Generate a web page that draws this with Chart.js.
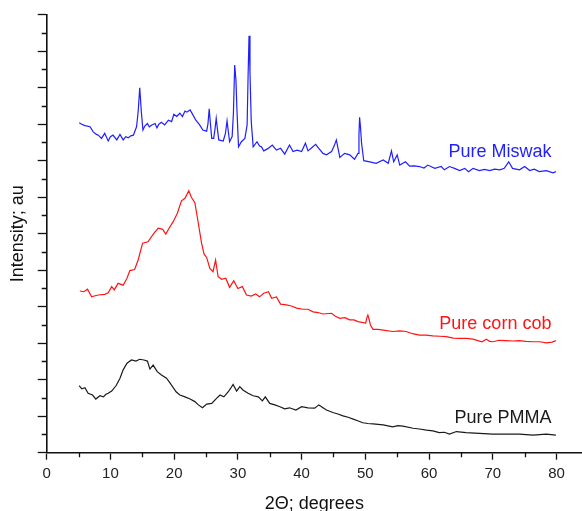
<!DOCTYPE html>
<html>
<head>
<meta charset="utf-8">
<script src="https://cdn.jsdelivr.net/npm/chart.js@4.4.1/dist/chart.umd.min.js"></script>
<style>
html,body{margin:0;padding:0;background:#fff;}
#wrap{width:582px;height:511px;}
</style>
</head>
<body>
<div id="wrap"><canvas id="xrd"></canvas></div>
<script>
// valores (2 theta en grados / intensidad en u.a.)
const miswakAngle=[5.1,5.5,6.0,6.8,7.3,7.8,8.1,8.6,9.1,9.65,10.0,10.4,11.0,11.5,12.0,12.4,12.8,13.2,13.6,14.1,14.35,14.6,14.85,15.1,15.4,15.8,16.1,16.5,17.0,17.3,17.6,18.0,18.5,19.1,19.6,19.95,20.4,20.9,21.3,21.7,22.0,22.5,22.9,23.4,24.0,24.5,25.1,25.3,25.5,25.7,25.9,26.2,26.4,26.6,26.8,27.0,27.7,28.05,28.3,28.5,28.7,29.1,29.3,29.5,29.7,29.85,30.1,30.55,31.1,31.45,31.6,31.75,31.9,32.1,32.4,33.0,33.4,33.7,34.05,34.7,35.4,36.05,36.7,37.35,38.1,38.65,39.3,40.0,40.6,41.0,41.5,42.2,42.7,43.35,43.9,44.7,45.1,45.45,45.7,46.0,46.75,47.55,48.3,48.85,49.0,49.1,49.25,49.4,49.75,50.7,51.7,52.8,53.6,54.1,54.45,55.0,55.4,56.3,56.95,57.7,58.5,59.2,59.8,60.9,61.9,62.4,63.2,64.0,64.8,65.6,66.2,66.9,67.9,68.7,69.5,70.3,71.1,71.8,72.5,73.1,74.2,75.0,75.8,76.5,77.3,78.4,79.45,79.9];
const miswakIntensity=[9.04,9.00,8.96,8.93,8.79,8.72,8.70,8.61,8.75,8.54,8.66,8.70,8.57,8.72,8.57,8.66,8.63,8.68,8.70,8.93,9.34,10.0,9.34,8.84,8.95,9.02,8.93,8.98,9.02,8.90,9.00,9.05,8.98,9.11,9.07,9.27,9.21,9.30,9.21,9.36,9.33,9.39,9.27,9.11,8.98,8.84,8.81,9.0,9.42,9.0,8.61,8.61,8.85,9.16,8.85,8.57,8.54,8.75,9.09,8.80,8.52,8.66,9.3,10.62,10.2,9.4,8.38,8.52,8.61,8.98,10.3,11.42,10.4,9.07,8.38,8.52,8.40,8.38,8.27,8.33,8.43,8.29,8.34,8.18,8.43,8.25,8.29,8.25,8.48,8.27,8.34,8.45,8.34,8.20,8.16,8.25,8.40,8.57,8.35,8.09,8.20,8.16,8.04,8.20,8.7,9.19,8.9,8.5,8.0,7.97,7.93,8.02,7.93,8.27,7.97,8.16,7.88,7.97,7.85,7.86,7.84,7.80,7.88,7.79,7.84,7.75,7.84,7.79,7.73,7.79,7.70,7.79,7.73,7.76,7.73,7.77,7.75,7.79,7.97,7.79,7.75,7.84,7.73,7.77,7.70,7.73,7.67,7.70];

const cornAngle=[5.2,5.85,6.4,7.05,7.6,8.1,9.1,9.65,10.2,10.6,11.2,12.0,12.6,13.05,13.8,14.35,15.05,15.9,16.45,17.0,17.5,18.2,18.7,19.2,19.85,20.5,21.15,21.7,22.3,22.7,23.25,23.8,24.3,24.7,25.1,25.6,26.1,26.5,26.9,27.45,28.1,28.7,29.35,30.0,30.7,31.35,32.1,32.8,33.4,34.05,34.8,35.3,36.05,36.7,37.6,38.4,39.2,40.2,41.0,41.8,42.6,43.35,44.7,45.3,46.0,46.8,47.55,48.2,48.85,50.05,50.25,50.4,50.6,50.8,51.2,52.0,52.8,54.3,55.4,56.4,57.4,58.5,59.5,60.6,61.7,62.7,63.8,64.8,65.9,66.9,68.3,69.0,69.5,70.0,71.0,72.1,73.1,74.2,75.2,76.3,77.4,78.4,79.3,79.9];
const cornIntensity=[4.43,4.41,4.48,4.27,4.30,4.32,4.34,4.38,4.55,4.46,4.64,4.59,4.78,4.99,5.02,5.28,5.74,5.78,5.92,6.05,6.15,6.12,5.99,6.15,6.33,6.56,6.90,6.97,7.18,7.0,6.85,6.28,5.74,5.44,5.35,5.05,4.96,5.28,4.82,4.75,4.78,4.53,4.71,4.50,4.55,4.32,4.29,4.35,4.27,4.37,4.41,4.23,4.27,4.07,4.05,4.02,3.96,3.93,3.93,3.86,3.84,3.80,3.82,3.74,3.68,3.70,3.64,3.64,3.59,3.55,3.70,3.77,3.65,3.50,3.38,3.38,3.36,3.32,3.34,3.32,3.26,3.22,3.22,3.20,3.19,3.18,3.14,3.13,3.13,3.11,3.04,3.11,3.05,3.04,3.08,3.07,3.06,3.07,3.05,3.04,3.04,3.01,3.03,3.07];

const pmmaAngle=[5.1,5.5,6.0,6.5,7.2,7.7,8.35,8.9,9.3,9.65,10.2,10.9,11.5,12.0,12.6,13.3,14.0,14.6,15.25,15.8,16.2,16.7,17.35,18.0,18.8,19.4,20.3,20.9,21.7,22.5,23.25,23.8,24.45,25.1,25.9,26.65,27.2,27.8,28.5,28.85,29.25,29.8,30.3,30.8,31.6,32.4,33.2,33.85,34.3,35.0,35.8,36.6,37.35,38.1,39.1,40.0,41.0,42.05,42.7,43.9,44.9,45.7,46.5,47.3,48.1,48.9,49.6,50.4,51.2,52.8,54.3,55.1,55.9,57.5,58.5,59.6,60.6,61.6,62.4,63.2,64.3,65.8,67.9,70.0,72.1,74.2,76.3,78.4,79.9];
const pmmaIntensity=[1.84,1.75,1.78,1.63,1.58,1.47,1.56,1.53,1.60,1.63,1.69,1.84,2.04,2.27,2.45,2.54,2.51,2.56,2.54,2.51,2.29,2.40,2.22,2.13,2.04,1.90,1.67,1.58,1.53,1.47,1.40,1.31,1.23,1.33,1.35,1.49,1.58,1.53,1.67,1.76,1.87,1.69,1.81,1.72,1.63,1.56,1.53,1.42,1.53,1.35,1.31,1.26,1.20,1.23,1.17,1.26,1.23,1.22,1.31,1.17,1.10,1.06,1.01,0.97,0.92,0.87,0.82,0.80,0.79,0.76,0.71,0.74,0.73,0.67,0.65,0.62,0.60,0.55,0.56,0.51,0.58,0.55,0.53,0.51,0.51,0.51,0.48,0.51,0.48];

const seriesNames=['Pure Miswak','Pure corn cob','Pure PMMA'];
const seriesColors=['#1f1fff','#ff1414','#1a1a1a'];

const FONT='Arial, "Liberation Sans", sans-serif';

function pares(xs,ys){
    return xs.map((x,i)=>({x:x,y:ys[i]}));
}

// marcas menores de los ejes (mas cortas que las mayores)
const minorTicks={
    id:'minorTicks',
    afterDraw(chart){
        const ctx=chart.ctx;
        const sx=chart.scales.x, sy=chart.scales.y;
        ctx.save();
        ctx.strokeStyle='#111';
        ctx.lineWidth=1.3;
        ctx.beginPath();
        for(let v=5;v<=75;v+=10){
            const px=Math.round(sx.getPixelForValue(v))+0.5;
            ctx.moveTo(px,sy.bottom);
            ctx.lineTo(px,sy.bottom+4.5);
        }
        for(let v=0.5;v<12;v+=1){
            const py=Math.round(sy.getPixelForValue(v))+0.5;
            ctx.moveTo(sx.left,py);
            ctx.lineTo(sx.left-5,py);
        }
        ctx.stroke();
        ctx.restore();
    }
};

// nombres de cada curva
const curveLabels={
    id:'curveLabels',
    afterDatasetsDraw(chart,args,opts){
        const ctx=chart.ctx;
        const sx=chart.scales.x, sy=chart.scales.y;
        ctx.save();
        ctx.font='18px '+FONT;
        ctx.textAlign='right';
        ctx.textBaseline='alphabetic';
        opts.items.forEach((it,i)=>{
            ctx.fillStyle=seriesColors[i];
            ctx.fillText(seriesNames[i],sx.getPixelForValue(opts.x),sy.getPixelForValue(it));
        });
        ctx.restore();
    }
};

const data={
    datasets:[
        {label:seriesNames[0],data:pares(miswakAngle,miswakIntensity)},
        {label:seriesNames[1],data:pares(cornAngle,cornIntensity)},
        {label:seriesNames[2],data:pares(pmmaAngle,pmmaIntensity)}
    ].map((d,i)=>Object.assign(d,{
        borderColor:seriesColors[i],
        borderWidth:1.2,
        pointRadius:0,
        tension:0,
        fill:false
    }))
};

const config={
    type:'line',
    data:data,
    options:{
        responsive:true,
        maintainAspectRatio:false,
        animation:false,
        layout:{padding:{top:14.7,right:0,bottom:0,left:0}},
        plugins:{
            legend:{display:false},
            tooltip:{enabled:false},
            curveLabels:{x:79.2,items:[8.11,3.38,0.82]}
        },
        scales:{
            x:{
                type:'linear',
                min:0,
                max:84,
                afterFit:(s)=>{s.height=58.3;},
                border:{display:true,color:'#111',width:1.6},
                grid:{
                    drawOnChartArea:false,
                    drawTicks:true,
                    tickLength:7,
                    tickWidth:1.3,
                    tickColor:(c)=>(c.tick && c.tick.value%10===0)?'#111':'rgba(0,0,0,0)'
                },
                ticks:{
                    stepSize:5,
                    includeBounds:false,
                    autoSkip:false,
                    maxRotation:0,
                    padding:5,
                    color:'#222',
                    font:{family:FONT,size:15},
                    callback:(v)=>(v%10===0)?String(v):''
                },
                title:{
                    display:true,
                    text:'2Θ; degrees',
                    color:'#111',
                    font:{family:FONT,size:18},
                    padding:{top:0,bottom:-4}
                }
            },
            y:{
                type:'linear',
                min:0,
                max:12,
                afterFit:(s)=>{s.width=46.7;},
                border:{display:true,color:'#111',width:1.6},
                grid:{
                    drawOnChartArea:false,
                    drawTicks:true,
                    tickLength:9,
                    tickWidth:1.3,
                    tickColor:(c)=>(c.tick && Number.isInteger(c.tick.value))?'#111':'rgba(0,0,0,0)'
                },
                ticks:{stepSize:0.5,display:false},
                title:{
                    display:true,
                    text:'Intensity; au',
                    color:'#111',
                    font:{family:FONT,size:18},
                    padding:{top:7,bottom:0}
                }
            }
        }
    },
    plugins:[minorTicks,curveLabels]
};

const chart=new Chart(document.getElementById('xrd'),config);
</script>
</body>
</html>
